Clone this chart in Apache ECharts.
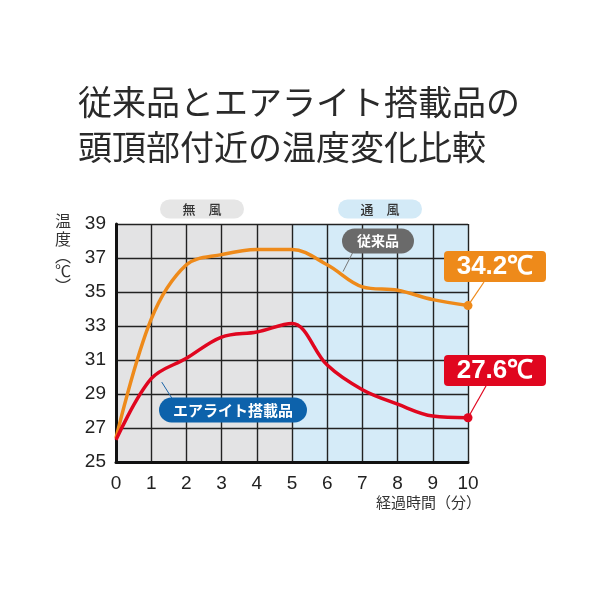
<!DOCTYPE html>
<html>
<head>
<meta charset="utf-8">
<script src="https://cdn.jsdelivr.net/npm/echarts@6/dist/echarts.min.js"></script>
<style>
  html, body { margin: 0; padding: 0; background: #fff; }
  #chart { width: 600px; height: 600px; }
</style>
</head>
<body>
<div id="chart"></div>
<script>
// 経過時間（分）
const minutes = [0, 1, 2, 3, 4, 5, 6, 7, 8, 9, 10];
// 従来品
const conventional = [26.4, 33.4, 36.6, 37.2, 37.5, 37.5, 36.6, 35.3, 35.1, 34.55, 34.2];
// エアライト搭載品
const airlite = [26.3, 29.9, 31.1, 32.35, 32.65, 33.15, 30.7, 29.25, 28.4, 27.7, 27.6];
// 区間（無風 / 通風）
const zones = [
  { name: "無　風", from: 0, to: 5, fill: "#e3e3e4", pill: "#e6e6e6" },
  { name: "通　風", from: 5, to: 10, fill: "#d5ebf8", pill: "#d3eaf7" },
];
const yTicks = { min: 25, max: 39, step: 2 };

const FONT_JP = '"Noto Sans CJK JP", sans-serif';
const FONT_NUM = '"Liberation Sans", Arial, sans-serif';
const ORANGE = "#ee8a1a";
const RED = "#e0061f";

const chart = echarts.init(document.getElementById("chart"));

const toPairs = (ys) => minutes.map((m, i) => [m, ys[i]]);
const lastDot = (val, p) => (p.dataIndex === minutes.length - 1 ? 9 : 0);

chart.setOption({
  animation: false,
  backgroundColor: "#fff",
  grid: { left: 116, right: 132, top: 224, bottom: 138 },
  xAxis: {
    type: "value",
    min: 0,
    max: 10,
    interval: 1,
    z: 3,
    axisLine: { show: true, onZero: false, lineStyle: { color: "#111", width: 3 } },
    axisTick: { show: false },
    axisLabel: { fontFamily: FONT_NUM, fontSize: 19, color: "#222", margin: 12 },
    splitLine: { show: true, lineStyle: { color: "#222", width: 1.4 } },
  },
  yAxis: {
    type: "value",
    min: yTicks.min,
    max: yTicks.max,
    interval: yTicks.step,
    z: 3,
    axisLine: { show: true, lineStyle: { color: "#111", width: 3 } },
    axisTick: { show: false },
    axisLabel: { fontFamily: FONT_NUM, fontSize: 19, color: "#222", margin: 10 },
    splitLine: { show: true, lineStyle: { color: "#222", width: 1.4 } },
  },
  series: [
    {
      // background bands only
      name: "zones",
      type: "line",
      data: [],
      z: 1,
      silent: true,
      markArea: {
        silent: true,
        itemStyle: { opacity: 1 },
        data: zones.map((z) => [
          { xAxis: z.from, yAxis: yTicks.min, itemStyle: { color: z.fill } },
          { xAxis: z.to, yAxis: yTicks.max },
        ]),
      },
    },
    {
      name: "従来品",
      type: "line",
      data: toPairs(conventional),
      smooth: 0.35,
      symbol: "circle",
      symbolSize: lastDot,
      lineStyle: { color: ORANGE, width: 3.5 },
      itemStyle: { color: ORANGE },
      z: 4,
    },
    {
      name: "エアライト搭載品",
      type: "line",
      data: toPairs(airlite),
      smooth: 0.35,
      symbol: "circle",
      symbolSize: lastDot,
      lineStyle: { color: RED, width: 3.5 },
      itemStyle: { color: RED },
      z: 5,
    },
  ],
});

// annotations placed relative to the axes
const px = (x, y) => chart.convertToPixel({ gridIndex: 0 }, [x, y]);
const top39 = px(0, yTicks.max)[1];
const bottom25 = px(0, yTicks.min)[1];
const n = minutes.length - 1;
const endOrange = px(minutes[n], conventional[n]);
const endRed = px(minutes[n], airlite[n]);

function pill(cx, cy, w, h, fill, text, color, size, weight) {
  return {
    type: "group",
    children: [
      { type: "rect", shape: { x: cx - w / 2, y: cy - h / 2, width: w, height: h, r: h / 2 }, style: { fill: fill }, z: 10 },
      {
        type: "text",
        x: cx, y: cy,
        style: { text: text, fill: color, font: weight + " " + size + "px " + FONT_JP, align: "center", verticalAlign: "middle" },
        z: 11,
      },
    ],
  };
}

function valueBox(x, y, fill, text, anchor, target) {
  return {
    type: "group",
    children: [
      { type: "line", shape: { x1: anchor[0], y1: anchor[1], x2: target[0], y2: target[1] }, style: { stroke: fill, lineWidth: 1.2 }, z: 9 },
      { type: "rect", shape: { x: x, y: y, width: 102, height: 31, r: 4 }, style: { fill: fill }, z: 10 },
      {
        type: "text", x: x + 51, y: y + 16,
        style: { text: text, fill: "#fff", font: "bold 26px " + FONT_NUM, align: "center", verticalAlign: "middle" },
        z: 11,
      },
    ],
  };
}

const zoneLabels = zones.map((z, i) => {
  const a = px(z.from, 0)[0], b = px(z.to, 0)[0];
  const cx = (a + b) / 2 + (i === 0 ? -2 : 0);
  return pill(cx, top39 - 15, 84, 19, z.pill, z.name, "#333", 13, 500);
});

const grayLeader = px(6.45, 36.2);
const blueLeader = px(1.3, 29.7);

chart.setOption({
  graphic: [
    {
      type: "text", left: 78, top: 85,
      style: { text: "従来品とエアライト搭載品の", fill: "#2a2a2a", font: "34px " + FONT_JP },
    },
    {
      type: "text", left: 78, top: 130,
      style: { text: "頭頂部付近の温度変化比較", fill: "#2a2a2a", font: "34px " + FONT_JP },
    },
    {
      type: "text", x: 63, y: 212,
      style: {
        text: "{a|温\n度}\n{b|︵\n℃\n︶}",
        align: "center",
        rich: {
          a: { fill: "#333", font: "16px " + FONT_JP, lineHeight: 18 },
          b: { fill: "#333", font: "16px " + FONT_JP, lineHeight: 15 },
        },
      },
    },
    {
      type: "text", x: 481, y: bottom25 + 33,
      style: { text: "経過時間（分）", fill: "#333", font: "15px " + FONT_JP, align: "right" },
    },
    ...zoneLabels,
    { type: "line", shape: { x1: 353, y1: 252, x2: grayLeader[0], y2: grayLeader[1] }, style: { stroke: "#777", lineWidth: 1 }, z: 9 },
    pill(378, 241, 72, 25, "#6a6a6a", "従来品", "#fff", 14, "bold"),
    { type: "line", shape: { x1: 173, y1: 400, x2: blueLeader[0], y2: blueLeader[1] }, style: { stroke: "#1a64a8", lineWidth: 1 }, z: 9 },
    pill(233, 410, 148, 25, "#0d62ab", "エアライト搭載品", "#fff", 15, "bold"),
    valueBox(444, 251, ORANGE, "34.2℃", [484, 282], endOrange),
    valueBox(444, 355, RED, "27.6℃", [486, 386], endRed),
  ],
});
</script>
</body>
</html>
